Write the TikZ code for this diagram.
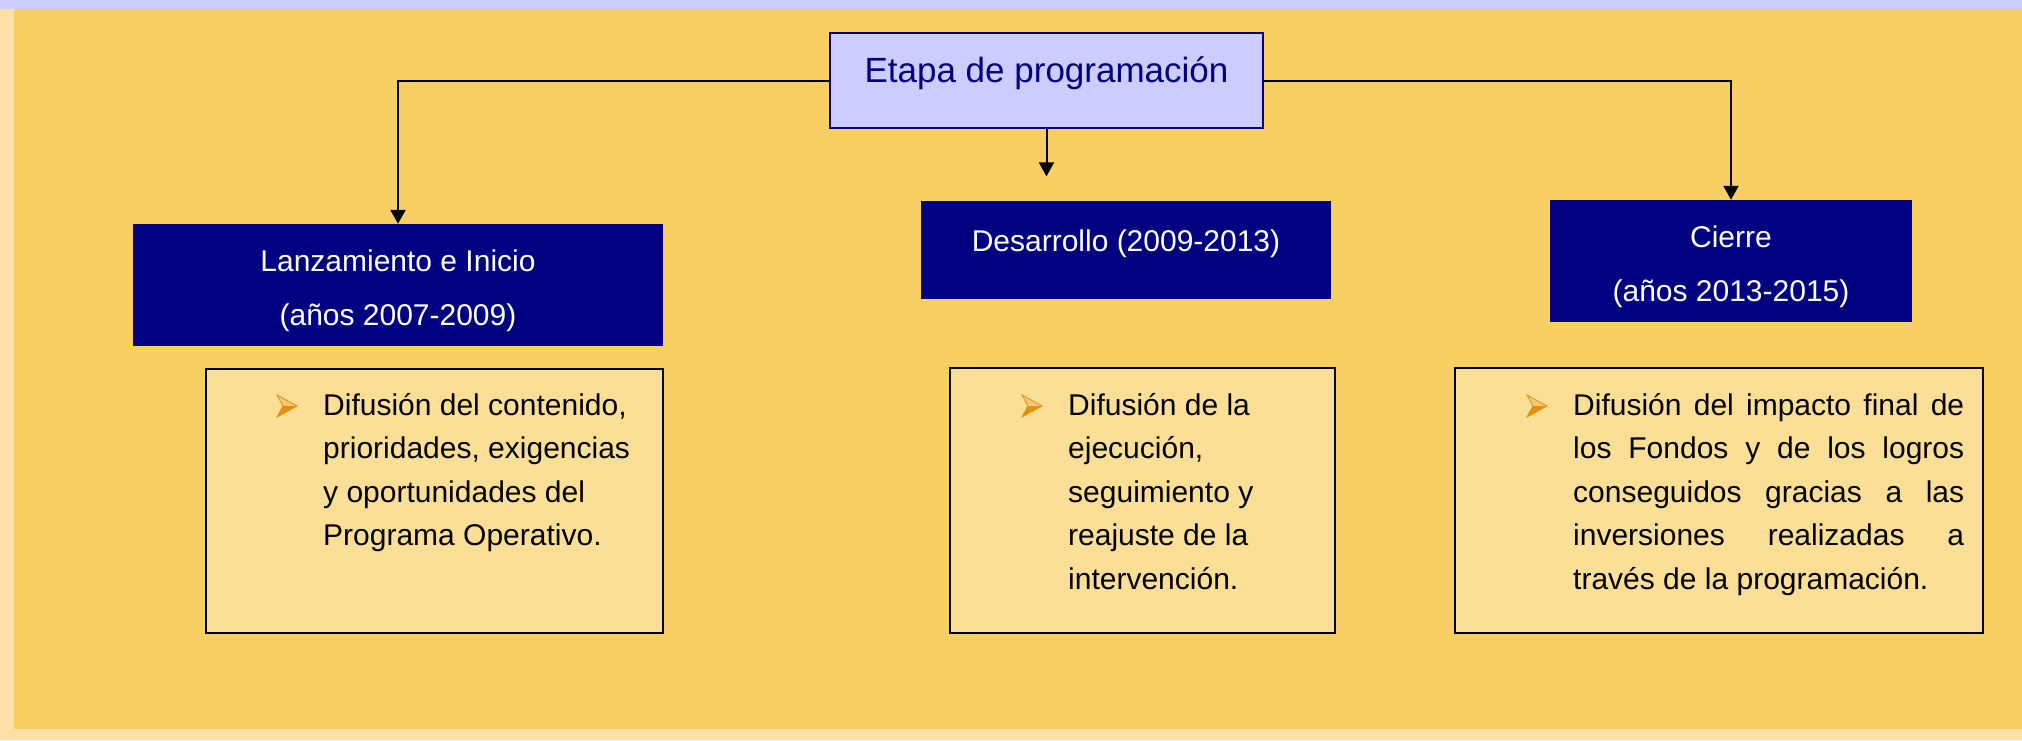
\documentclass[tikz,border=0pt]{standalone}
\usepackage{fontspec}
\setmainfont{Liberation Sans}
\usetikzlibrary{arrows.meta, positioning}
\definecolor{fondo}{HTML}{F8CF63}
\definecolor{margen}{HTML}{FEE1A7}
\definecolor{lavanda}{HTML}{CCCCFF}
\definecolor{azulosc}{HTML}{000080}
\definecolor{crema}{HTML}{FBDF97}
\definecolor{naranja}{HTML}{E58F0C}
\definecolor{naranjaclaro}{HTML}{F7C87A}
\newcommand{\renglon}[1]{\makebox[391pt][s]{#1}}

\begin{document}
\begin{tikzpicture}[x=1pt, y=-1pt,
    etapa/.style={draw=azulosc, line width=2.7pt, fill=lavanda, minimum width=433pt, minimum height=95pt, inner sep=0pt},
    fase/.style={fill=azulosc, inner sep=0pt},
    detalle/.style={draw=black, line width=2.7pt, fill=crema, inner sep=0pt},
    conector/.style={draw=black, line width=2pt, -{Triangle[length=14pt,width=15pt]}},
    titulo/.style={inner sep=0pt, anchor=base, align=center, text=white, font=\fontsize{30}{54}\selectfont},
    texto/.style={inner sep=0pt, anchor=base west, align=left, font=\fontsize{30}{43.5}\selectfont},
    pics/flecha/.style={code={
        \fill[naranjaclaro] (0,-11) -- (20,0) -- (6,0) -- cycle;
        \fill[naranja] (6,0) -- (20,0) -- (0,11) -- cycle;
        \draw[naranja, line width=0.8pt] (0,-11) -- (20,0) -- (0,11) -- (6,0) -- cycle;
    }}]
    \useasboundingbox (0,0) rectangle (2022,740);
    % fondo
    \fill[margen] (0,0) rectangle (2022,740);
    \fill[lavanda] (0,0) rectangle (2022,9);
    \fill[fondo] (14,9) rectangle (2022,729);

    % etapa
    \node[etapa] (etapa) at (1046.5,80.5) {};
    \node[inner sep=0pt, anchor=base, text=azulosc, font=\fontsize{35}{42}\selectfont] (tetapa) at (1046.5,82) {Etapa de programación};

    % fases (base = ultima linea)
    \node[fase, minimum width=530pt, minimum height=122pt] (lanz) at (398,285) {};
    \node[fase, minimum width=410pt, minimum height=98pt] (desa) at (1126,250) {};
    \node[fase, minimum width=362pt, minimum height=122pt] (cierre) at (1731,261) {};
    \node[titulo] (tlanz) at (398,325) {Lanzamiento e Inicio\\(años 2007-2009)};
    \node[titulo] (tdesa) at (1126,251) {Desarrollo (2009-2013)};
    \node[titulo] (tcierre) at (1731,301) {Cierre\\(años 2013-2015)};

    \coordinate[below=47pt of etapa] (medio);
    \draw[conector] (etapa.west) -| (lanz.north);
    \draw[conector] (etapa.east) -| (cierre.north);
    \draw[conector] (etapa.south) -- (medio);

    % detalles
    \node[detalle, minimum width=457pt, minimum height=264pt] (dlanz) at (434.5,501) {};
    \node[detalle, minimum width=385pt, minimum height=265pt] (ddesa) at (1142.5,500.5) {};
    \node[detalle, minimum width=528pt, minimum height=265pt] (dcierre) at (1719,500.5) {};

    \pic at (277,406) {flecha};
    \pic at (1022,406) {flecha};
    \pic at (1527,406) {flecha};

    \node[texto] (xlanz) at (323,545.5) {Difusión del contenido,\\prioridades, exigencias\\y oportunidades del\\Programa Operativo.};
    \node[texto] (xdesa) at (1068,589) {Difusión de la\\ejecución,\\seguimiento y\\reajuste de la\\intervención.};
    \node[texto] (xcierre) at (1573,589) {\renglon{Difusión del impacto final de}\\\renglon{los Fondos y de los logros}\\\renglon{conseguidos gracias a las}\\\renglon{inversiones realizadas a}\\través de la programación.};
\end{tikzpicture}
\end{document}
